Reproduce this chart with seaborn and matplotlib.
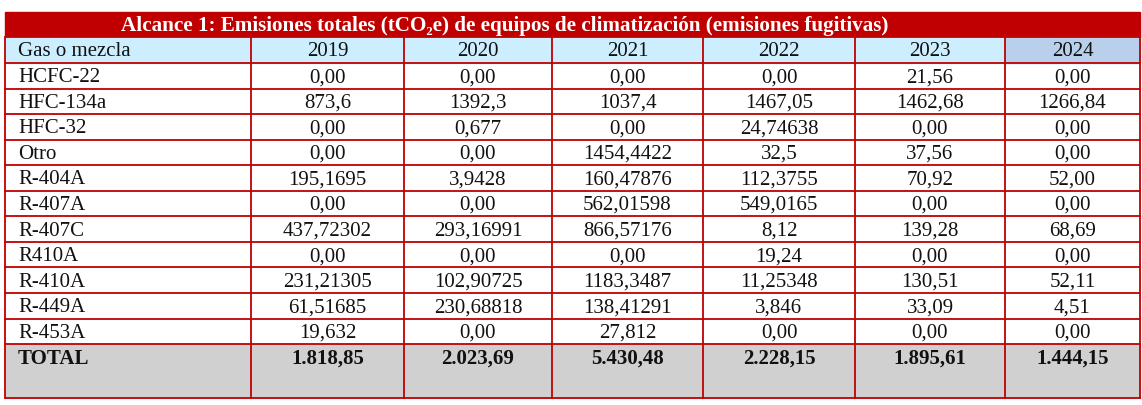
import matplotlib
matplotlib.use("Agg")
import matplotlib.pyplot as plt
import seaborn as sns
from matplotlib.patches import Rectangle

sns.set_style("white")
plt.rcParams['font.family'] = ['Liberation Serif', 'DejaVu Serif']

title = "Alcance 1: Emisiones totales (tCO\u2082e) de equipos de climatización (emisiones fugitivas)"
years = ["2019", "2020", "2021", "2022", "2023", "2024"]
gases = ["HCFC-22", "HFC-134a", "HFC-32", "Otro", "R-404A", "R-407A", "R-407C",
         "R410A", "R-410A", "R-449A", "R-453A"]
v2019 = ["0,00", "873,6", "0,00", "0,00", "195,1695", "0,00", "437,72302", "0,00", "231,21305", "61,51685", "19,632"]
v2020 = ["0,00", "1392,3", "0,677", "0,00", "3,9428", "0,00", "293,16991", "0,00", "102,90725", "230,68818", "0,00"]
v2021 = ["0,00", "1037,4", "0,00", "1454,4422", "160,47876", "562,01598", "866,57176", "0,00", "1183,3487", "138,41291", "27,812"]
v2022 = ["0,00", "1467,05", "24,74638", "32,5", "112,3755", "549,0165", "8,12", "19,24", "11,25348", "3,846", "0,00"]
v2023 = ["21,56", "1462,68", "0,00", "37,56", "70,92", "0,00", "139,28", "0,00", "130,51", "33,09", "0,00"]
v2024 = ["0,00", "1266,84", "0,00", "0,00", "52,00", "0,00", "68,69", "0,00", "52,11", "4,51", "0,00"]
totals = ["1.818,85", "2.023,69", "5.430,48", "2.228,15", "1.895,61", "1.444,15"]
cols = [v2019, v2020, v2021, v2022, v2023, v2024]

W, H = 1142, 406
fig = plt.figure(figsize=(W/100, H/100), dpi=100)
ax = fig.add_axes([0, 0, 1, 1])
ax.set_xlim(0, W); ax.set_ylim(H, 0); ax.axis("off")

xs = [4.5, 251, 404, 552, 703, 855, 1005, 1140]
red = "#C00000"
t0, t1, h1 = 13, 38, 64
rh = 25.55
tot0 = h1 + rh*len(gases)
bot = 399
tc = "#111111"

ax.add_patch(Rectangle((xs[0], t0), xs[-1]-xs[0], t1-t0, color=red, zorder=1))
ax.text(505, (t0+t1)/2+1, title, color="white", fontsize=15.2, fontweight="bold",
        ha="center", va="center")
ax.add_patch(Rectangle((xs[0], t1), xs[-1]-xs[0], h1-t1, color="#CCEEFF", zorder=1))
ax.add_patch(Rectangle((xs[6], t1), xs[7]-xs[6], h1-t1, color="#B8D0EC", zorder=1))
ax.add_patch(Rectangle((xs[0], tot0), xs[-1]-xs[0], bot-tot0, color="#D0D0D0", zorder=1))

for y in [t1, h1] + [h1 + rh*i for i in range(1, len(gases)+1)] + [bot]:
    ax.plot([xs[0], xs[-1]], [y, y], color=red, lw=1.3, zorder=2)
for x in xs:
    ax.plot([x, x], [t1, bot], color=red, lw=1.3, zorder=2)

fs = 15
lx = 18
ax.text(lx, (t1+h1)/2+1, "Gas o mezcla", fontsize=fs, ha="left", va="center", color=tc)
for j, yv in enumerate(years):
    ax.text((xs[j+1]+xs[j+2])/2, (t1+h1)/2+1, yv, fontsize=fs, ha="center", va="center", color=tc)
for i, g in enumerate(gases):
    yc = h1 + rh*(i+0.5) + 1
    ax.text(lx, yc, g, fontsize=fs, ha="left", va="center", color=tc)
    for j, c in enumerate(cols):
        ax.text((xs[j+1]+xs[j+2])/2, yc, c[i], fontsize=fs, ha="center", va="center", color=tc)
yc = tot0 + rh/2 + 1
ax.text(lx, yc, "TOTAL", fontsize=fs, fontweight="bold", ha="left", va="center", color=tc)
for j, t in enumerate(totals):
    ax.text((xs[j+1]+xs[j+2])/2, yc, t, fontsize=fs, fontweight="bold", ha="center", va="center", color=tc)

fig.savefig("out.png", dpi=100)
